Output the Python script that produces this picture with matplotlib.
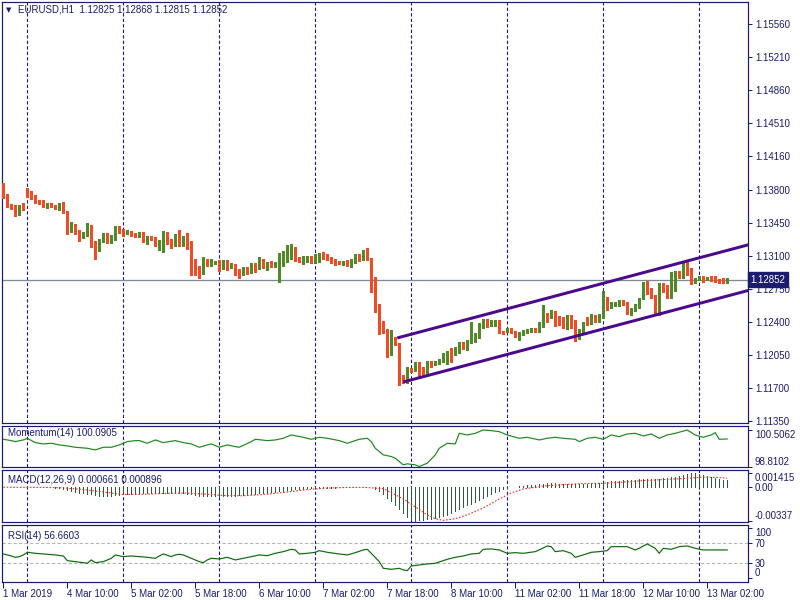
import numpy as np
import matplotlib
matplotlib.use("Agg")
import matplotlib.pyplot as plt
from matplotlib.transforms import blended_transform_factory

plt.rcParams['font.family'] = ['Liberation Sans', 'DejaVu Sans']

NAVY = '#1b1b6f'
BULL = '#4e8a25'
BEAR = '#f44a24'
PX = 0.72  # one pixel in points at 100 dpi

# EURUSD H1 bars, 1 Mar 2019 18:00 .. 13 Mar 2019
opens = [
    1.13857, 1.13740, 1.13644, 1.13623, 1.13560, 1.13634, 1.13804, 1.13761, 1.13740, 1.13687,
    1.13676, 1.13644, 1.13655, 1.13634, 1.13602, 1.13655, 1.13570, 1.13401, 1.13422, 1.13369,
    1.13316, 1.13326, 1.13422, 1.13252, 1.13210, 1.13263, 1.13316, 1.13284, 1.13284, 1.13411,
    1.13379, 1.13347, 1.13358, 1.13337, 1.13316, 1.13347, 1.13273, 1.13305, 1.13284, 1.13231,
    1.13263, 1.13347, 1.13263, 1.13220, 1.13326, 1.13220, 1.13305, 1.13252, 1.13072, 1.12987,
    1.12944, 1.13040, 1.13008, 1.13029, 1.13051, 1.12966, 1.13051, 1.12987, 1.13008, 1.12944,
    1.12902, 1.12976, 1.12955, 1.13019, 1.12987, 1.13061, 1.12987, 1.13029, 1.12997, 1.13019,
    1.13019, 1.13072, 1.13146, 1.13167, 1.13072, 1.13051, 1.13051, 1.13093, 1.13029, 1.13051,
    1.13125, 1.13104, 1.13082, 1.13051, 1.13040, 1.13019, 1.13051, 1.12997, 1.13051, 1.13093,
    1.13072, 1.13146, 1.13072, 1.12870, 1.12584, 1.12329, 1.12308, 1.12107, 1.12234, 1.12170,
    1.11820, 1.11788, 1.11905, 1.11894, 1.11969, 1.11894, 1.11863, 1.11979, 1.11958, 1.11969,
    1.11990, 1.12053, 1.12085, 1.12064, 1.12117, 1.12181, 1.12117, 1.12191, 1.12234, 1.12244,
    1.12350, 1.12414, 1.12382, 1.12382, 1.12414, 1.12297, 1.12308, 1.12329, 1.12297, 1.12255,
    1.12276, 1.12297, 1.12308, 1.12329, 1.12308, 1.12350, 1.12488, 1.12446, 1.12510, 1.12425,
    1.12425, 1.12340, 1.12467, 1.12414, 1.12234, 1.12308, 1.12404, 1.12404, 1.12467, 1.12414,
    1.12467, 1.12616, 1.12584, 1.12584, 1.12584, 1.12626, 1.12605, 1.12488, 1.12531, 1.12563,
    1.12658, 1.12817, 1.12722, 1.12679, 1.12510, 1.12807, 1.12785, 1.12669, 1.12743, 1.12923,
    1.12881, 1.12976, 1.12966, 1.12849, 1.12860, 1.12881, 1.12860, 1.12870, 1.12870, 1.12849,
    1.12860, 1.12825]
closes = [
    1.13719, 1.13634, 1.13613, 1.13560, 1.13634, 1.13602, 1.13751, 1.13729, 1.13676, 1.13666,
    1.13634, 1.13655, 1.13634, 1.13613, 1.13655, 1.13570, 1.13411, 1.13411, 1.13358, 1.13316,
    1.13337, 1.13422, 1.13252, 1.13210, 1.13273, 1.13316, 1.13263, 1.13294, 1.13411, 1.13358,
    1.13326, 1.13358, 1.13337, 1.13316, 1.13347, 1.13263, 1.13305, 1.13284, 1.13231, 1.13263,
    1.13358, 1.13252, 1.13231, 1.13326, 1.13210, 1.13305, 1.13241, 1.13051, 1.12966, 1.12944,
    1.13040, 1.13008, 1.13061, 1.13040, 1.12966, 1.13051, 1.12987, 1.13019, 1.12934, 1.12902,
    1.12976, 1.12955, 1.13019, 1.12987, 1.13061, 1.12987, 1.13029, 1.12997, 1.13029, 1.13029,
    1.13082, 1.13157, 1.13167, 1.13061, 1.13051, 1.13061, 1.13093, 1.13029, 1.13072, 1.13114,
    1.13093, 1.13061, 1.13040, 1.13019, 1.13029, 1.13040, 1.12997, 1.13061, 1.13093, 1.13061,
    1.13157, 1.13072, 1.12860, 1.12584, 1.12308, 1.12297, 1.12107, 1.12297, 1.12170, 1.11820,
    1.11778, 1.11916, 1.11884, 1.11969, 1.11873, 1.11863, 1.11969, 1.11958, 1.11979, 1.12000,
    1.12053, 1.12085, 1.12053, 1.12128, 1.12181, 1.12128, 1.12191, 1.12244, 1.12244, 1.12350,
    1.12414, 1.12372, 1.12393, 1.12414, 1.12287, 1.12287, 1.12319, 1.12297, 1.12266, 1.12287,
    1.12308, 1.12319, 1.12329, 1.12308, 1.12361, 1.12488, 1.12446, 1.12499, 1.12414, 1.12414,
    1.12350, 1.12467, 1.12404, 1.12234, 1.12319, 1.12404, 1.12393, 1.12467, 1.12414, 1.12478,
    1.12616, 1.12563, 1.12594, 1.12605, 1.12626, 1.12594, 1.12488, 1.12541, 1.12584, 1.12658,
    1.12817, 1.12711, 1.12669, 1.12499, 1.12807, 1.12764, 1.12701, 1.12743, 1.12923, 1.12881,
    1.12976, 1.12944, 1.12817, 1.12870, 1.12881, 1.12849, 1.12870, 1.12860, 1.12838, 1.12838,
    1.12828, 1.12852]
highs = [
    1.13878, 1.13761, 1.13655, 1.13644, 1.13644, 1.13666, 1.13825, 1.13793, 1.13751, 1.13697,
    1.13697, 1.13666, 1.13666, 1.13644, 1.13666, 1.13676, 1.13581, 1.13464, 1.13443, 1.13379,
    1.13358, 1.13454, 1.13432, 1.13263, 1.13284, 1.13347, 1.13347, 1.13326, 1.13422, 1.13422,
    1.13390, 1.13379, 1.13369, 1.13347, 1.13358, 1.13358, 1.13316, 1.13316, 1.13305, 1.13273,
    1.13369, 1.13358, 1.13284, 1.13337, 1.13379, 1.13316, 1.13347, 1.13263, 1.13072, 1.12997,
    1.13093, 1.13072, 1.13072, 1.13051, 1.13061, 1.13061, 1.13061, 1.13029, 1.13019, 1.12966,
    1.12987, 1.12987, 1.13029, 1.13029, 1.13093, 1.13072, 1.13040, 1.13051, 1.13040, 1.13135,
    1.13157, 1.13220, 1.13231, 1.13199, 1.13093, 1.13104, 1.13104, 1.13104, 1.13125, 1.13135,
    1.13146, 1.13125, 1.13093, 1.13072, 1.13051, 1.13051, 1.13061, 1.13072, 1.13125, 1.13125,
    1.13167, 1.13188, 1.13082, 1.12881, 1.12594, 1.12414, 1.12329, 1.12319, 1.12244, 1.12181,
    1.11841, 1.11926, 1.11916, 1.11979, 1.11979, 1.11926, 1.11990, 1.11990, 1.11990, 1.12011,
    1.12075, 1.12096, 1.12128, 1.12138, 1.12191, 1.12191, 1.12213, 1.12404, 1.12287, 1.12393,
    1.12435, 1.12435, 1.12425, 1.12425, 1.12425, 1.12308, 1.12340, 1.12340, 1.12308, 1.12297,
    1.12319, 1.12329, 1.12340, 1.12340, 1.12404, 1.12584, 1.12499, 1.12531, 1.12520, 1.12467,
    1.12457, 1.12478, 1.12478, 1.12425, 1.12329, 1.12404, 1.12457, 1.12488, 1.12478, 1.12488,
    1.12732, 1.12669, 1.12616, 1.12616, 1.12637, 1.12637, 1.12616, 1.12552, 1.12594, 1.12658,
    1.12828, 1.12838, 1.12764, 1.12690, 1.12817, 1.12817, 1.12796, 1.12934, 1.12944, 1.12944,
    1.13029, 1.13040, 1.12976, 1.12870, 1.12891, 1.12891, 1.12881, 1.12891, 1.12891, 1.12860,
    1.12870, 1.12868]
lows = [
    1.13719, 1.13623, 1.13602, 1.13528, 1.13538, 1.13591, 1.13729, 1.13708, 1.13666, 1.13655,
    1.13623, 1.13613, 1.13623, 1.13602, 1.13591, 1.13560, 1.13337, 1.13358, 1.13337, 1.13263,
    1.13294, 1.13316, 1.13199, 1.13072, 1.13157, 1.13252, 1.13241, 1.13241, 1.13273, 1.13347,
    1.13316, 1.13337, 1.13316, 1.13305, 1.13305, 1.13252, 1.13231, 1.13273, 1.13210, 1.13167,
    1.13146, 1.13231, 1.13188, 1.13210, 1.13210, 1.13210, 1.13178, 1.12902, 1.12902, 1.12870,
    1.12913, 1.12997, 1.12997, 1.13019, 1.12944, 1.12966, 1.12955, 1.12976, 1.12902, 1.12870,
    1.12902, 1.12913, 1.12923, 1.12934, 1.12966, 1.12976, 1.12955, 1.12987, 1.12987, 1.12828,
    1.12997, 1.13040, 1.13072, 1.13051, 1.13040, 1.13019, 1.13040, 1.13029, 1.13029, 1.13040,
    1.13072, 1.13061, 1.13029, 1.13008, 1.13019, 1.13008, 1.12997, 1.12987, 1.13029, 1.13051,
    1.13061, 1.13061, 1.12722, 1.12510, 1.12276, 1.12287, 1.12032, 1.12053, 1.12160, 1.11735,
    1.11756, 1.11756, 1.11873, 1.11884, 1.11831, 1.11841, 1.11852, 1.11926, 1.11947, 1.11958,
    1.11979, 1.11958, 1.11979, 1.12053, 1.12075, 1.12117, 1.12107, 1.12181, 1.12191, 1.12234,
    1.12340, 1.12350, 1.12361, 1.12361, 1.12287, 1.12276, 1.12297, 1.12287, 1.12244, 1.12213,
    1.12266, 1.12287, 1.12297, 1.12297, 1.12297, 1.12350, 1.12404, 1.12446, 1.12361, 1.12372,
    1.12340, 1.12329, 1.12340, 1.12202, 1.12223, 1.12297, 1.12372, 1.12382, 1.12404, 1.12404,
    1.12446, 1.12531, 1.12552, 1.12573, 1.12573, 1.12584, 1.12488, 1.12478, 1.12520, 1.12552,
    1.12648, 1.12701, 1.12658, 1.12488, 1.12478, 1.12722, 1.12658, 1.12658, 1.12732, 1.12870,
    1.12870, 1.12902, 1.12807, 1.12817, 1.12849, 1.12828, 1.12849, 1.12838, 1.12828, 1.12817,
    1.12817, 1.12815]

price_ticks = [1.15560, 1.15210, 1.14860, 1.14510, 1.14160, 1.13800, 1.13450,
               1.13100, 1.12750, 1.12400, 1.12050, 1.11700, 1.11350]
last_price = 1.12852

# trend channel (two anchor points per line)
chan_upper = [(98.5, 1.12234), (171.0, 1.13050)]
chan_lower = [(100.0, 1.11767), (171.0, 1.12566)]

# time axis
time_ticks = [0, 16, 32, 48, 64, 80, 96, 112, 128, 144, 160, 176]
time_labels = ['1 Mar 2019', '4 Mar 10:00', '5 Mar 02:00', '5 Mar 18:00', '6 Mar 10:00',
               '7 Mar 02:00', '7 Mar 18:00', '8 Mar 10:00', '11 Mar 02:00', '11 Mar 18:00',
               '12 Mar 10:00', '13 Mar 02:00']
day_starts = [6, 30, 54, 78, 102, 126, 150, 174]

# Momentum(14)
mom_bars = [0, 2, 3, 5, 6, 8, 10, 12, 14, 16, 18, 21, 23, 25, 27, 29, 31, 33, 34, 36, 38, 40,
            43, 45, 47, 49, 51, 52, 54, 56, 58, 59, 62, 63, 66, 68, 70, 72, 75, 77, 79, 81,
            84, 86, 89, 91, 92, 93, 95, 97, 98, 100, 101, 103, 104, 106, 108, 109, 111, 113,
            114, 116, 118, 120, 122, 124, 126, 129, 131, 134, 136, 138, 140, 143, 144, 146,
            148, 150, 152, 154, 156, 158, 160, 162, 164, 166, 168, 171, 173, 175, 177, 178,
            179, 181]
mom_vals = [100.075, 100.013, 99.967, 100.044, 100.121, 99.920, 99.859, 99.890, 99.812,
            99.766, 99.704, 99.658, 99.581, 99.704, 99.704, 99.812, 99.967, 100.013, 100.013,
            99.890, 100.044, 99.920, 100.013, 99.920, 99.859, 99.704, 99.812, 99.859, 99.704,
            99.812, 99.735, 99.704, 99.967, 100.075, 100.013, 100.044, 100.121, 100.275,
            100.167, 100.075, 100.167, 100.121, 100.013, 99.890, 100.075, 100.121, 99.967,
            99.658, 99.350, 99.273, 99.196, 98.887, 98.934, 98.887, 98.810, 98.964, 99.350,
            99.658, 99.890, 99.859, 100.352, 100.275, 100.352, 100.506, 100.476, 100.429,
            100.275, 100.121, 100.167, 100.044, 100.121, 100.167, 100.121, 100.075, 99.967,
            100.121, 100.167, 100.075, 100.275, 100.198, 100.321, 100.352, 100.229, 100.321,
            100.121, 100.275, 100.352, 100.506, 100.275, 100.167, 100.275, 100.383, 100.075,
            100.0905]
mom_ticks = [100.5062, 98.8102]

# MACD(12,26,9) main line, in units of 0.0001
macd_e4 = [
    -0.2, -0.2, -0.3, -0.4, -0.4, -0.4, -0.3, -0.2, -0.2, -0.2,
    -0.3, -0.3, -0.4, -0.6, -1.0, -1.5, -2.5, -3.5, -4.5, -5.5,
    -6.5, -7.0, -7.5, -8.5, -9.0, -9.5, -9.5, -9.0, -8.5, -8.0,
    -7.5, -7.0, -7.0, -7.0, -6.5, -6.5, -6.5, -6.0, -6.5, -6.0,
    -6.0, -5.5, -6.0, -6.0, -6.0, -6.5, -7.0, -7.5, -8.5, -9.0,
    -9.0, -9.0, -9.0, -9.0, -9.0, -9.0, -9.0, -9.0, -9.0, -8.5,
    -8.5, -8.0, -7.5, -7.0, -6.5, -6.0, -5.5, -5.0, -4.5, -4.0,
    -3.5, -3.0, -2.5, -2.0, -1.5, -1.5, -1.0, -1.0, -0.8, -0.6,
    -0.5, -0.5, -0.5, -0.5, -0.4, -0.4, -0.4, -0.4, -0.3, -0.2,
    0.0, 0.2, 0.0, -1.5, -4.0, -7.0, -11.0, -14.5, -18.5, -22.0,
    -26.0, -30.0, -33.0, -33.7, -33.5, -33.0, -32.5, -32.0, -31.0, -30.0,
    -29.0, -28.0, -26.0, -24.0, -22.0, -20.0, -18.5, -17.0, -15.0, -13.0,
    -11.0, -9.0, -7.0, -5.0, -3.5, -2.0, -1.0, 0.0, 0.5, 1.0,
    1.5, 2.0, 2.5, 2.5, 3.0, 3.5, 4.0, 4.0, 4.0, 3.5,
    3.5, 3.5, 3.5, 3.0, 3.0, 3.5, 3.5, 3.5, 4.0, 4.0,
    5.0, 5.5, 6.0, 6.0, 6.5, 7.0, 7.0, 7.5, 7.5, 8.0,
    8.5, 8.0, 8.0, 8.0, 8.5, 9.0, 9.5, 10.0, 10.5, 11.5,
    12.5, 13.5, 14.15, 14.0, 13.5, 12.5, 11.5, 10.5, 9.5, 8.5,
    7.5, 6.61]
sig_bars = [0, 10, 15, 20, 25, 30, 35, 40, 45, 50, 55, 60, 65, 70, 75, 80, 85, 90, 95,
            100, 103, 106, 108, 110, 113, 116, 120, 124, 127, 130, 135, 140, 145, 150,
            155, 160, 165, 170, 175, 178, 181]
sig_e4 = [-0.2, -0.3, -0.8, -2.5, -5.0, -7.5, -7.3, -6.5, -6.0, -7.0, -8.5, -8.8, -7.5,
          -5.5, -3.0, -1.2, -0.5, -0.3, -1.5, -12.0, -20.0, -28.0, -32.0, -33.5, -32.0,
          -28.0, -21.0, -12.0, -6.0, -2.0, 1.0, 2.5, 3.5, 3.8, 5.0, 6.5, 7.5, 8.5, 10.0,
          9.8, 8.96]
macd_ticks = [0.001415, 0.0, -0.00337]
macd_labels = ['0.001415', '0.00', '-0.00337']

# RSI(14)
rsi_bars = [0, 2, 3, 4, 5, 6, 8, 11, 13, 15, 16, 18, 20, 21, 22, 23, 25, 27, 28, 30, 32, 34,
            36, 38, 39, 40, 42, 43, 44, 45, 47, 49, 50, 51, 52, 54, 56, 58, 60, 62, 64, 66,
            68, 70, 72, 73, 74, 76, 78, 79, 81, 84, 86, 88, 90, 91, 92, 94, 95, 97, 99, 100,
            101, 102, 104, 106, 108, 110, 111, 113, 115, 117, 119, 120, 122, 124, 126, 128,
            130, 133, 134, 136, 137, 138, 140, 142, 143, 145, 147, 149, 151, 152, 154, 156,
            158, 159, 161, 163, 164, 165, 167, 169, 171, 173, 175, 177, 179, 181]
rsi_vals = [48.7, 44.7, 42.0, 43.3, 46.7, 52.0, 50.0, 48.0, 46.7, 44.7, 35.3, 33.3, 31.3,
            30.0, 36.7, 31.3, 33.3, 40.0, 46.7, 43.3, 44.7, 43.3, 42.0, 40.0, 44.7, 48.7,
            43.3, 46.7, 48.0, 46.7, 40.0, 33.3, 31.3, 36.7, 40.0, 38.7, 42.0, 36.7, 40.0,
            43.3, 46.7, 45.3, 50.0, 53.3, 58.0, 56.7, 48.7, 50.0, 52.0, 55.3, 52.0, 48.7,
            46.7, 51.3, 56.7, 58.0, 50.0, 33.3, 20.0, 18.0, 20.0, 16.7, 15.3, 24.7, 26.7,
            28.7, 30.0, 35.3, 38.0, 42.0, 44.7, 48.7, 50.0, 58.0, 58.7, 56.7, 50.0, 51.3,
            50.0, 53.3, 56.7, 64.7, 63.3, 53.3, 55.3, 50.0, 42.0, 46.7, 52.0, 53.3, 55.3,
            63.3, 63.3, 63.3, 56.7, 60.0, 68.7, 60.0, 50.0, 60.0, 58.0, 63.3, 64.7, 60.0,
            56.7, 56.7, 56.7, 56.66]
rsi_levels = [70, 30]
rsi_ticks = [100, 70, 30, 0]

n = len(closes)
x = np.arange(n)

fig = plt.figure(figsize=(8, 6), dpi=100)
fig.patch.set_facecolor('white')


def panel(top, bottom):
    a = fig.add_axes([2 / 800, 1 - bottom / 600, 746 / 800, (bottom - top) / 600])
    for s in a.spines.values():
        s.set_color(NAVY)
        s.set_linewidth(1.2 * PX)
    a.set_xlim(-0.33, 186.2)
    a.yaxis.tick_right()
    a.tick_params(axis='y', colors=NAVY, labelcolor=NAVY, labelsize=7, length=3,
                  width=PX, pad=2)
    a.tick_params(axis='x', bottom=False, labelbottom=False)
    for d in day_starts:
        a.axvline(d, color=NAVY, lw=1.1 * PX, dashes=(3, 2), zorder=1)
    return a


ax = panel(2, 423)
am = panel(426, 467)
ad = panel(470, 522)
ar = panel(525, 582)

# price panel
ax.set_ylim(1.11332, 1.15797)
ax.axhline(last_price, color='#7a8a99', lw=1.3 * PX, zorder=2)
o = np.array(opens)
c = np.array(closes)
cols = np.where(c >= o, BULL, BEAR)
ax.vlines(x, lows, highs, colors=cols, lw=1.2 * PX, zorder=3, antialiased=False)
body = np.maximum(np.abs(c - o), 0.00008)
ax.bar(x, body, bottom=np.minimum(o, c), width=0.78, color=cols, lw=0, zorder=4,
       antialiased=False)
for line in (chan_upper, chan_lower):
    (x0, y0), (x1, y1) = line
    slope = (y1 - y0) / (x1 - x0)
    ax.plot([x0, 190], [y0, y0 + slope * (190 - x0)], color='#4b0a8c', lw=3 * PX,
            solid_capstyle='butt', zorder=5)
ax.set_yticks(price_ticks)
ax.set_yticklabels(['%.5f' % v for v in price_ticks])
tr = blended_transform_factory(ax.transAxes, ax.transData)
ax.text(1.003, last_price, '%.5f' % last_price, transform=tr, color='white', fontsize=7,
        va='center', ha='left',
        bbox=dict(boxstyle='square,pad=0.25', fc=NAVY, ec=NAVY), zorder=10, clip_on=False)

fig.text(6 / 800, 1 - 10 / 600, '\u25bc', fontsize=5, color=NAVY, va='center',
         family='DejaVu Sans')
fig.text(18 / 800, 1 - 10 / 600, 'EURUSD,H1  1.12825 1.12868 1.12815 1.12852',
         fontsize=7, color=NAVY, va='center')

# momentum
am.plot(mom_bars, mom_vals, color='#1f8a1f', lw=1.2 * PX)
am.set_ylim(98.787, 100.692)
am.set_yticks(mom_ticks)
am.set_yticklabels(['%.4f' % v for v in mom_ticks])
tl = am.get_yticklabels()
tl[0].set_va('top')
tl[1].set_va('bottom')
am.text(6 / 746, 0.83, 'Momentum(14) 100.0905', transform=am.transAxes, fontsize=7,
        color=NAVY, va='center')

# MACD
macd = np.array(macd_e4) * 1e-4
sig = np.array(sig_e4) * 1e-4
ad.vlines(x, 0, macd, colors='#2f5a3a', lw=1.0 * PX, antialiased=False, zorder=3)
ad.plot(sig_bars, sig, color='#e8312a', lw=1.1 * PX, ls=(0, (1.5, 1.5)), zorder=4)
ad.set_ylim(-0.003521, 0.001717)
ad.set_yticks(macd_ticks)
ad.set_yticklabels(macd_labels)
tl = ad.get_yticklabels()
tl[0].set_va('top')
tl[2].set_va('bottom')
ad.text(6 / 746, 0.8, 'MACD(12,26,9) 0.000661 0.000896', transform=ad.transAxes,
        fontsize=7, color=NAVY, va='center')

# RSI
for lv in rsi_levels:
    ar.axhline(lv, color='#b4b4b4', lw=1.1 * PX, dashes=(3, 2), zorder=1)
ar.plot(rsi_bars, rsi_vals, color='#0f6b0f', lw=1.2 * PX, zorder=3)
ar.set_ylim(-7.4, 106.6)
ar.set_yticks(rsi_ticks)
ar.set_yticklabels([str(v) for v in rsi_ticks])
tl = ar.get_yticklabels()
tl[0].set_va('top')
tl[3].set_va('bottom')
ar.text(6 / 746, 0.8, 'RSI(14) 56.6603', transform=ar.transAxes, fontsize=7,
        color=NAVY, va='center')
ar.tick_params(axis='x', bottom=True, labelbottom=True, colors=NAVY, labelcolor=NAVY,
               labelsize=7, length=4, width=PX, pad=1)
ar.set_xticks(time_ticks)
ar.set_xticklabels(time_labels, ha='left')

fig.savefig('out.png', dpi=100, facecolor='white')
